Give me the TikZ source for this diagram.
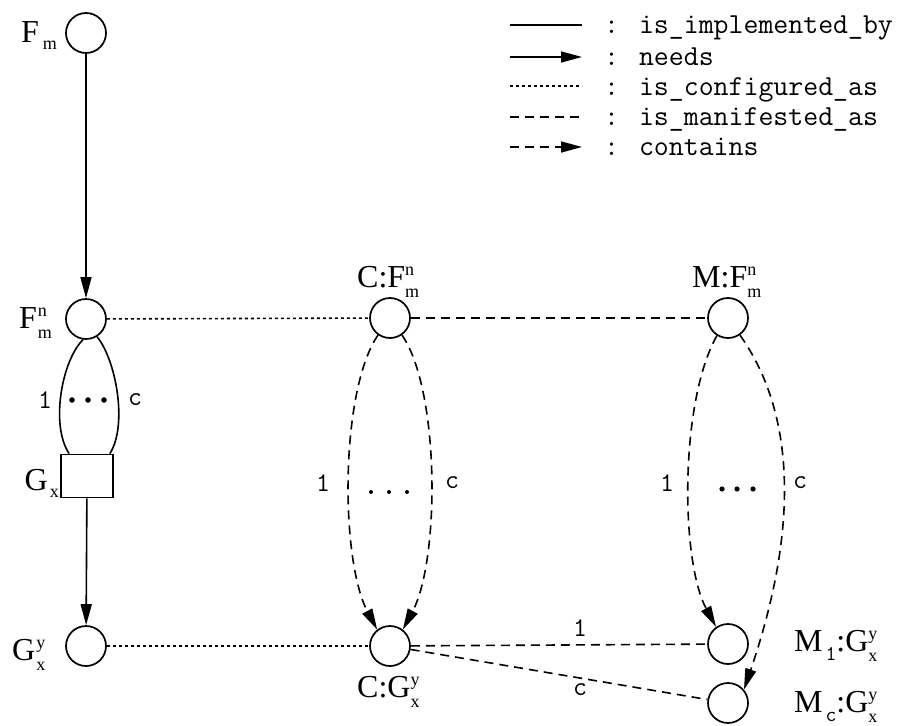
\documentclass[tikz,border=0pt]{standalone}
\usepackage{fontspec}
\setmainfont{Liberation Serif}
\usetikzlibrary{arrows.meta}

\newcommand\bigtxt{\fontsize{32}{38}\selectfont}
\newcommand\smalltxt{\fontsize{18}{22}\selectfont}
\newcommand\legtxt{\fontsize{29}{34}\selectfont\ttfamily}
\newcommand\edgetxt{\fontsize{27}{32}\selectfont\ttfamily}
% superscript stacked over subscript, and plain subscripts
\newcommand\supsubx[2]{\makebox[0pt][l]{\raisebox{12pt}{\smalltxt #1}}\raisebox{-10pt}{\smalltxt #2}}
\newcommand\subx[1]{\raisebox{-7pt}{\smalltxt #1}}
\newcommand\subtt[1]{\hspace{3pt}\raisebox{-9pt}{\fontsize{21}{24}\selectfont\ttfamily #1}}

\tikzset{
  elem/.style={circle, draw, line width=1.7pt, minimum size=40pt, inner sep=0pt},
  gbox/.style={rectangle, draw, line width=1.7pt, minimum width=52pt, minimum height=43pt, inner sep=0pt},
  lbl/.style={inner sep=0pt, font=\bigtxt},
  elbl/.style={inner sep=0pt, font=\edgetxt},
  rel/.style={line width=1.6pt},
  implby/.style={rel},
  needs/.style={rel, -{Triangle[length=21pt,width=11pt]}},
  configured/.style={rel, dash pattern=on 3pt off 3pt},
  manifested/.style={rel, dash pattern=on 9pt off 6pt},
  contains/.style={rel, dash pattern=on 9pt off 6pt, -{Triangle[length=21pt,width=11pt]}},
  ddot/.style={fill=black}
}

\begin{document}
\begin{tikzpicture}[x=1pt,y=-1pt]
\useasboundingbox (0,0) rectangle (904,725);

% elements
\node[elem] (Fm)  at (86,33)  {};
\node[elem] (Fnm) at (86,319) {};
\node[gbox] (Gx)  at (87,476) {};
\node[elem] (Gyx) at (86,646) {};
\node[elem] (CF)  at (390,318) {};
\node[elem] (CG)  at (390,646) {};
\node[elem] (MF)  at (728,318) {};
\node[elem] (M1)  at (728,644) {};
\node[elem] (Mc)  at (728,703) {};

% element names
\node[lbl, anchor=base west] (tFm)  at (21,42)  {F\hspace{4pt}\subx{m}};
\node[lbl, anchor=base west] (tFnm) at (19,328) {F\hspace{1pt}\supsubx{n}{m}};
\node[lbl, anchor=base east] (tGx)  at (59,490) {G\hspace{2pt}\subx{x}};
\node[lbl, anchor=base west] (tGyx) at (12,660) {G\hspace{1pt}\supsubx{y}{x}};
\node[lbl, anchor=base west] (tCF)  at (357,287) {C:F\supsubx{n}{m}};
\node[lbl, anchor=base west] (tMF)  at (692,287) {M:F\supsubx{n}{m}};
\node[lbl, anchor=base west] (tCG)  at (357,697) {C:G\supsubx{y}{x}};
\node[lbl, anchor=base west] (tM1)  at (794,651) {M\subtt{1}:G\supsubx{y}{x}};
\node[lbl, anchor=base west] (tMc)  at (794,712) {M\subtt{c}:G\supsubx{y}{x}};

% functional column
\draw[needs] (Fm) -- (Fnm);
\draw[implby] (Fnm.262) .. controls (62,360) and (50,425) .. ([xshift=9pt]Gx.north west);
\draw[implby] (Fnm.302) .. controls (116,360) and (128,425) .. ([xshift=-4pt]Gx.north east);
\draw[needs] (Gx) -- (Gyx);
\node[elbl] (l1a) at (45,400) {1};
\node[elbl] (lca) at (135,400) {c};
\fill[ddot] (72,400) circle (2.8pt) (88,400) circle (2.8pt) (104,400) circle (2.8pt);

% horizontal relations
\draw[configured] (Fnm) -- (CF);
\draw[manifested] (CF) -- (MF);
\draw[configured] (Gyx) -- (CG);
\draw[manifested] (CG) -- (M1);
\draw[manifested] (CG) -- (Mc);
\node[elbl] (l1d) at (580,628) {1};
\node[elbl] (lcd) at (580,690) {c};

% configuration contains
\draw[contains] (CF.235) .. controls (340,390) and (340,560) .. (CG.128);
\draw[contains] (CF.305) .. controls (440,390) and (440,560) .. (CG.52);
\node[elbl] (l1b) at (323,483) {1};
\node[elbl] (lcb) at (452,483) {c};
\fill[ddot] (371,492) circle (2pt) (389,492) circle (2pt) (407,492) circle (2pt);

% manifestation contains
\draw[contains] (MF.238) .. controls (680,400) and (680,560) .. (M1.125);
\draw[contains] (MF.305) .. controls (800,420) and (795,540) .. (Mc.40);
\node[elbl] (l1c) at (667,483) {1};
\node[elbl] (lcc) at (800,483) {c};
\fill[ddot] (722,489) circle (2.6pt) (737,489) circle (2.6pt) (753,489) circle (2.6pt);

% legend
\foreach \i/\y in {1/25,2/57,3/86,4/117,5/147}{
  \coordinate (la\i) at (510,\y);
  \coordinate (lb\i) at (582,\y);
}
\draw[implby] (la1) -- (lb1);
\draw[needs] (la2) -- (lb2);
\draw[configured] (la3) -- (lb3);
\draw[manifested] (la4) -- (lb4);
\draw[contains] (la5) -- (lb5);
\node[inner sep=0pt, anchor=base west, font=\legtxt] (k1) at (604,34)  {: is\_implemented\_by};
\node[inner sep=0pt, anchor=base west, font=\legtxt] (k2) at (604,65)  {: needs};
\node[inner sep=0pt, anchor=base west, font=\legtxt] (k3) at (604,95)  {: is\_configured\_as};
\node[inner sep=0pt, anchor=base west, font=\legtxt] (k4) at (604,125) {: is\_manifested\_as};
\node[inner sep=0pt, anchor=base west, font=\legtxt] (k5) at (604,155) {: contains};
\end{tikzpicture}
\end{document}
